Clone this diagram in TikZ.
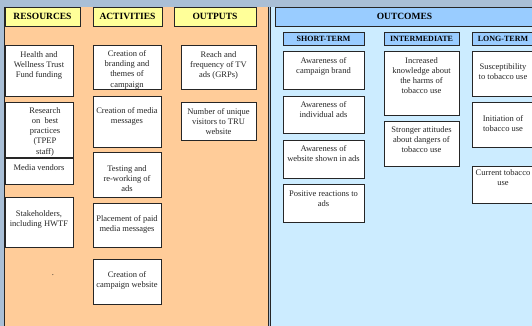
\documentclass[tikz,border=0pt]{standalone}
\usepackage{fontspec}
\setmainfont{Liberation Serif}
\definecolor{frame}{HTML}{A9BFD6}
\definecolor{inpanel}{HTML}{FFCC99}
\definecolor{outpanel}{HTML}{CCECFF}
\definecolor{hdyellow}{HTML}{FFFF99}
\definecolor{hdblue}{HTML}{99CCFF}
\definecolor{edge}{HTML}{262626}

\begin{document}
\begin{tikzpicture}[x=1pt, y=-1pt,
  head/.style={draw=edge, line width=0.9pt, fill=hdyellow, inner sep=0pt, font=\fontsize{9.5}{11}\selectfont\bfseries},
  subhead/.style={draw=edge, line width=0.9pt, fill=hdblue, inner sep=0pt, font=\fontsize{8}{9}\selectfont\bfseries},
  cell/.style={draw=edge, line width=0.8pt, fill=white},
  txt/.style={anchor=north, align=center, inner sep=0pt, yshift=-1.8pt, text=edge, font=\fontsize{8.5}{10.2}\selectfont},
]
\useasboundingbox (0,0) rectangle (532,326);

% ===== Frame and the two panels =====
\fill[frame] (0,0) rectangle (532,326);
\fill[inpanel] (4.5,7) rectangle (268.5,330);
\fill[outpanel] (270,7) rectangle (536,330);
\draw[edge, line width=1pt] (4.5,7) -- (4.5,330);
\draw[edge, line width=1pt] (268.5,7) -- (268.5,330);
\draw[edge, line width=0.8pt] (270.2,7) -- (270.2,330);

% ===== Column headers =====
\node[head, minimum width=75pt, minimum height=19pt] (resources) at (42.5,16.5) {RESOURCES};
\node[head, minimum width=69pt, minimum height=19pt] (activities) at (127.5,16.5) {ACTIVITIES};
\node[head, minimum width=82pt, minimum height=19pt] (outputs) at (215,16.5) {OUTPUTS};
\node[head, fill=hdblue, minimum width=259pt, minimum height=19pt] (outcomes) at (404.5,16.5) {OUTCOMES};

\node[subhead, minimum width=81pt, minimum height=13pt] (shortterm) at (323.5,38.5) {SHORT-TERM};
\node[subhead, minimum width=75pt, minimum height=13pt] (intermediate) at (421.5,38.5) {INTERMEDIATE};
\node[subhead, minimum width=62pt, minimum height=13pt] (longterm) at (503,38.5) {LONG-TERM};

% ===== Resources =====
\draw[cell] (5,45) rectangle (73,96);
\node[txt] (health) at (39,49.5) {Health and\\Wellness Trust\\Fund funding};
\draw[cell] (5,102) rectangle (73,157);
\node[txt] (research) at (45,105.5) {Research\\on \ best\\practices\\(TPEP\\staff)};
\draw[cell] (5,158) rectangle (73,184);
\node[txt] (vendors) at (39,162.5) {Media vendors};
\draw[cell] (5,197) rectangle (73,247);
\node[txt] (stakeholders) at (39,208.5) {Stakeholders,\\including HWTF};
\node[txt, anchor=base] (dot) at (53,274) {.};

% ===== Activities =====
\draw[cell] (93,45) rectangle (161,89);
\node[txt] (branding) at (127,48.5) {Creation of\\branding and\\themes of\\campaign};
\draw[cell] (93,96) rectangle (161,147);
\node[txt] (messages) at (127,105.5) {Creation of media\\messages};
\draw[cell] (93,152) rectangle (161,197);
\node[txt] (testing) at (127,163.5) {Testing and\\re-working of\\ads};
\draw[cell] (93,203) rectangle (161,247);
\node[txt] (placement) at (127,213.5) {Placement of paid\\media messages};
\draw[cell] (93,259) rectangle (161,304);
\node[txt] (website) at (127,269.5) {Creation of\\campaign website};

% ===== Outputs =====
\draw[cell] (181,45) rectangle (256,89);
\node[txt] (reach) at (218.5,49.5) {Reach and\\frequency of TV\\ads (GRPs)};
\draw[cell] (181,102) rectangle (256,140);
\node[txt] (visitors) at (218.5,106.5) {Number of unique\\visitors to TRU\\website};

% ===== Outcomes: short-term =====
\draw[cell] (283,51) rectangle (364,89);
\node[txt] (brandaware) at (323.5,55.5) {Awareness of\\campaign brand};
\draw[cell] (283,96) rectangle (364,133);
\node[txt] (adsaware) at (323.5,99.5) {Awareness of\\individual ads};
\draw[cell] (283,140) rectangle (364,178);
\node[txt] (webaware) at (323.5,143.5) {Awareness of\\website shown in ads};
\draw[cell] (283,184) rectangle (364,222);
\node[txt] (reactions) at (323.5,188.5) {Positive reactions to\\ads};

% ===== Outcomes: intermediate =====
\draw[cell] (384,51) rectangle (459,115);
\node[txt] (knowledge) at (421.5,55.5) {Increased\\knowledge about\\the harms of\\tobacco use};
\draw[cell] (384,121) rectangle (459,166);
\node[txt] (attitudes) at (421.5,124.5) {Stronger attitudes\\about dangers of\\tobacco use};

% ===== Outcomes: long-term =====
\draw[cell] (472,51) rectangle (534,96);
\node[txt] (susceptibility) at (503,61.5) {Susceptibility\\to tobacco use};
\draw[cell] (472,102) rectangle (534,147);
\node[txt] (initiation) at (503,113.5) {Initiation of\\tobacco use};
\draw[cell] (472,166) rectangle (534,203);
\node[txt] (current) at (503,167.5) {Current tobacco\\use};

\end{tikzpicture}
\end{document}
